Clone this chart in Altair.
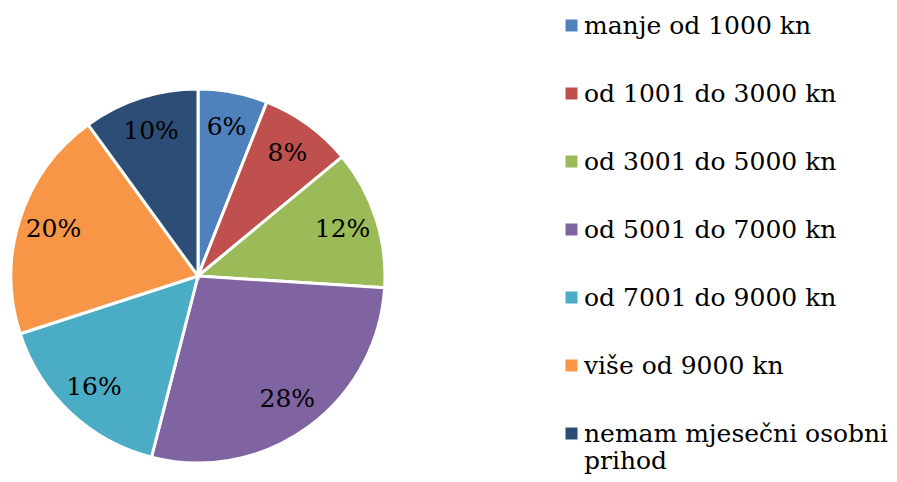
import altair as alt
import pandas as pd

categories = [
    "manje od 1000 kn",
    "od 1001 do 3000 kn",
    "od 3001 do 5000 kn",
    "od 5001 do 7000 kn",
    "od 7001 do 9000 kn",
    "više od 9000 kn",
    "nemam mjesečni osobni prihod",
]
values = [6, 8, 12, 28, 16, 20, 10]
colors = ["#4F81BD", "#C0504D", "#9BBB59", "#8064A2", "#4BACC6", "#F79646", "#2C4D75"]

df = pd.DataFrame({
    "category": categories,
    "value": values,
    "idx": list(range(len(categories))),
    "label": [f"{v}%" for v in values],
})

CX, CY = 190, 268
FONT = "DejaVu Serif"

base = alt.Chart(df).encode(
    theta=alt.Theta("value:Q", stack=True),
    order=alt.Order("idx:Q"),
)

arc = base.mark_arc(outerRadius=187, stroke="white", strokeWidth=3, x=CX, y=CY).encode(
    color=alt.Color(
        "category:N",
        sort=categories,
        scale=alt.Scale(domain=categories, range=colors),
        legend=alt.Legend(
            orient="none",
            legendX=551,
            legendY=5,
            title=None,
            symbolType="square",
            symbolSize=144,
            symbolStrokeWidth=0,
            labelFont=FONT,
            labelFontSize=25,
            labelColor="black",
            labelOffset=0,
            rowPadding=42,
            padding=0,
            labelLimit=500,
            labelExpr="datum.label == 'nemam mjesečni osobni prihod' ? ['nemam mjesečni osobni', 'prihod'] : datum.label",
        ),
    )
)

text = base.mark_text(
    radius=152, font=FONT, fontSize=25, color="black", x=CX, y=CY
).encode(text="label:N")

chart = (
    alt.layer(arc, text)
    .properties(width=881, height=466, autosize=alt.AutoSizeParams(type="none"), padding=0)
    .configure_view(stroke=None)
)

chart.save("out.html", embed_options={"renderer": "svg", "actions": False})
